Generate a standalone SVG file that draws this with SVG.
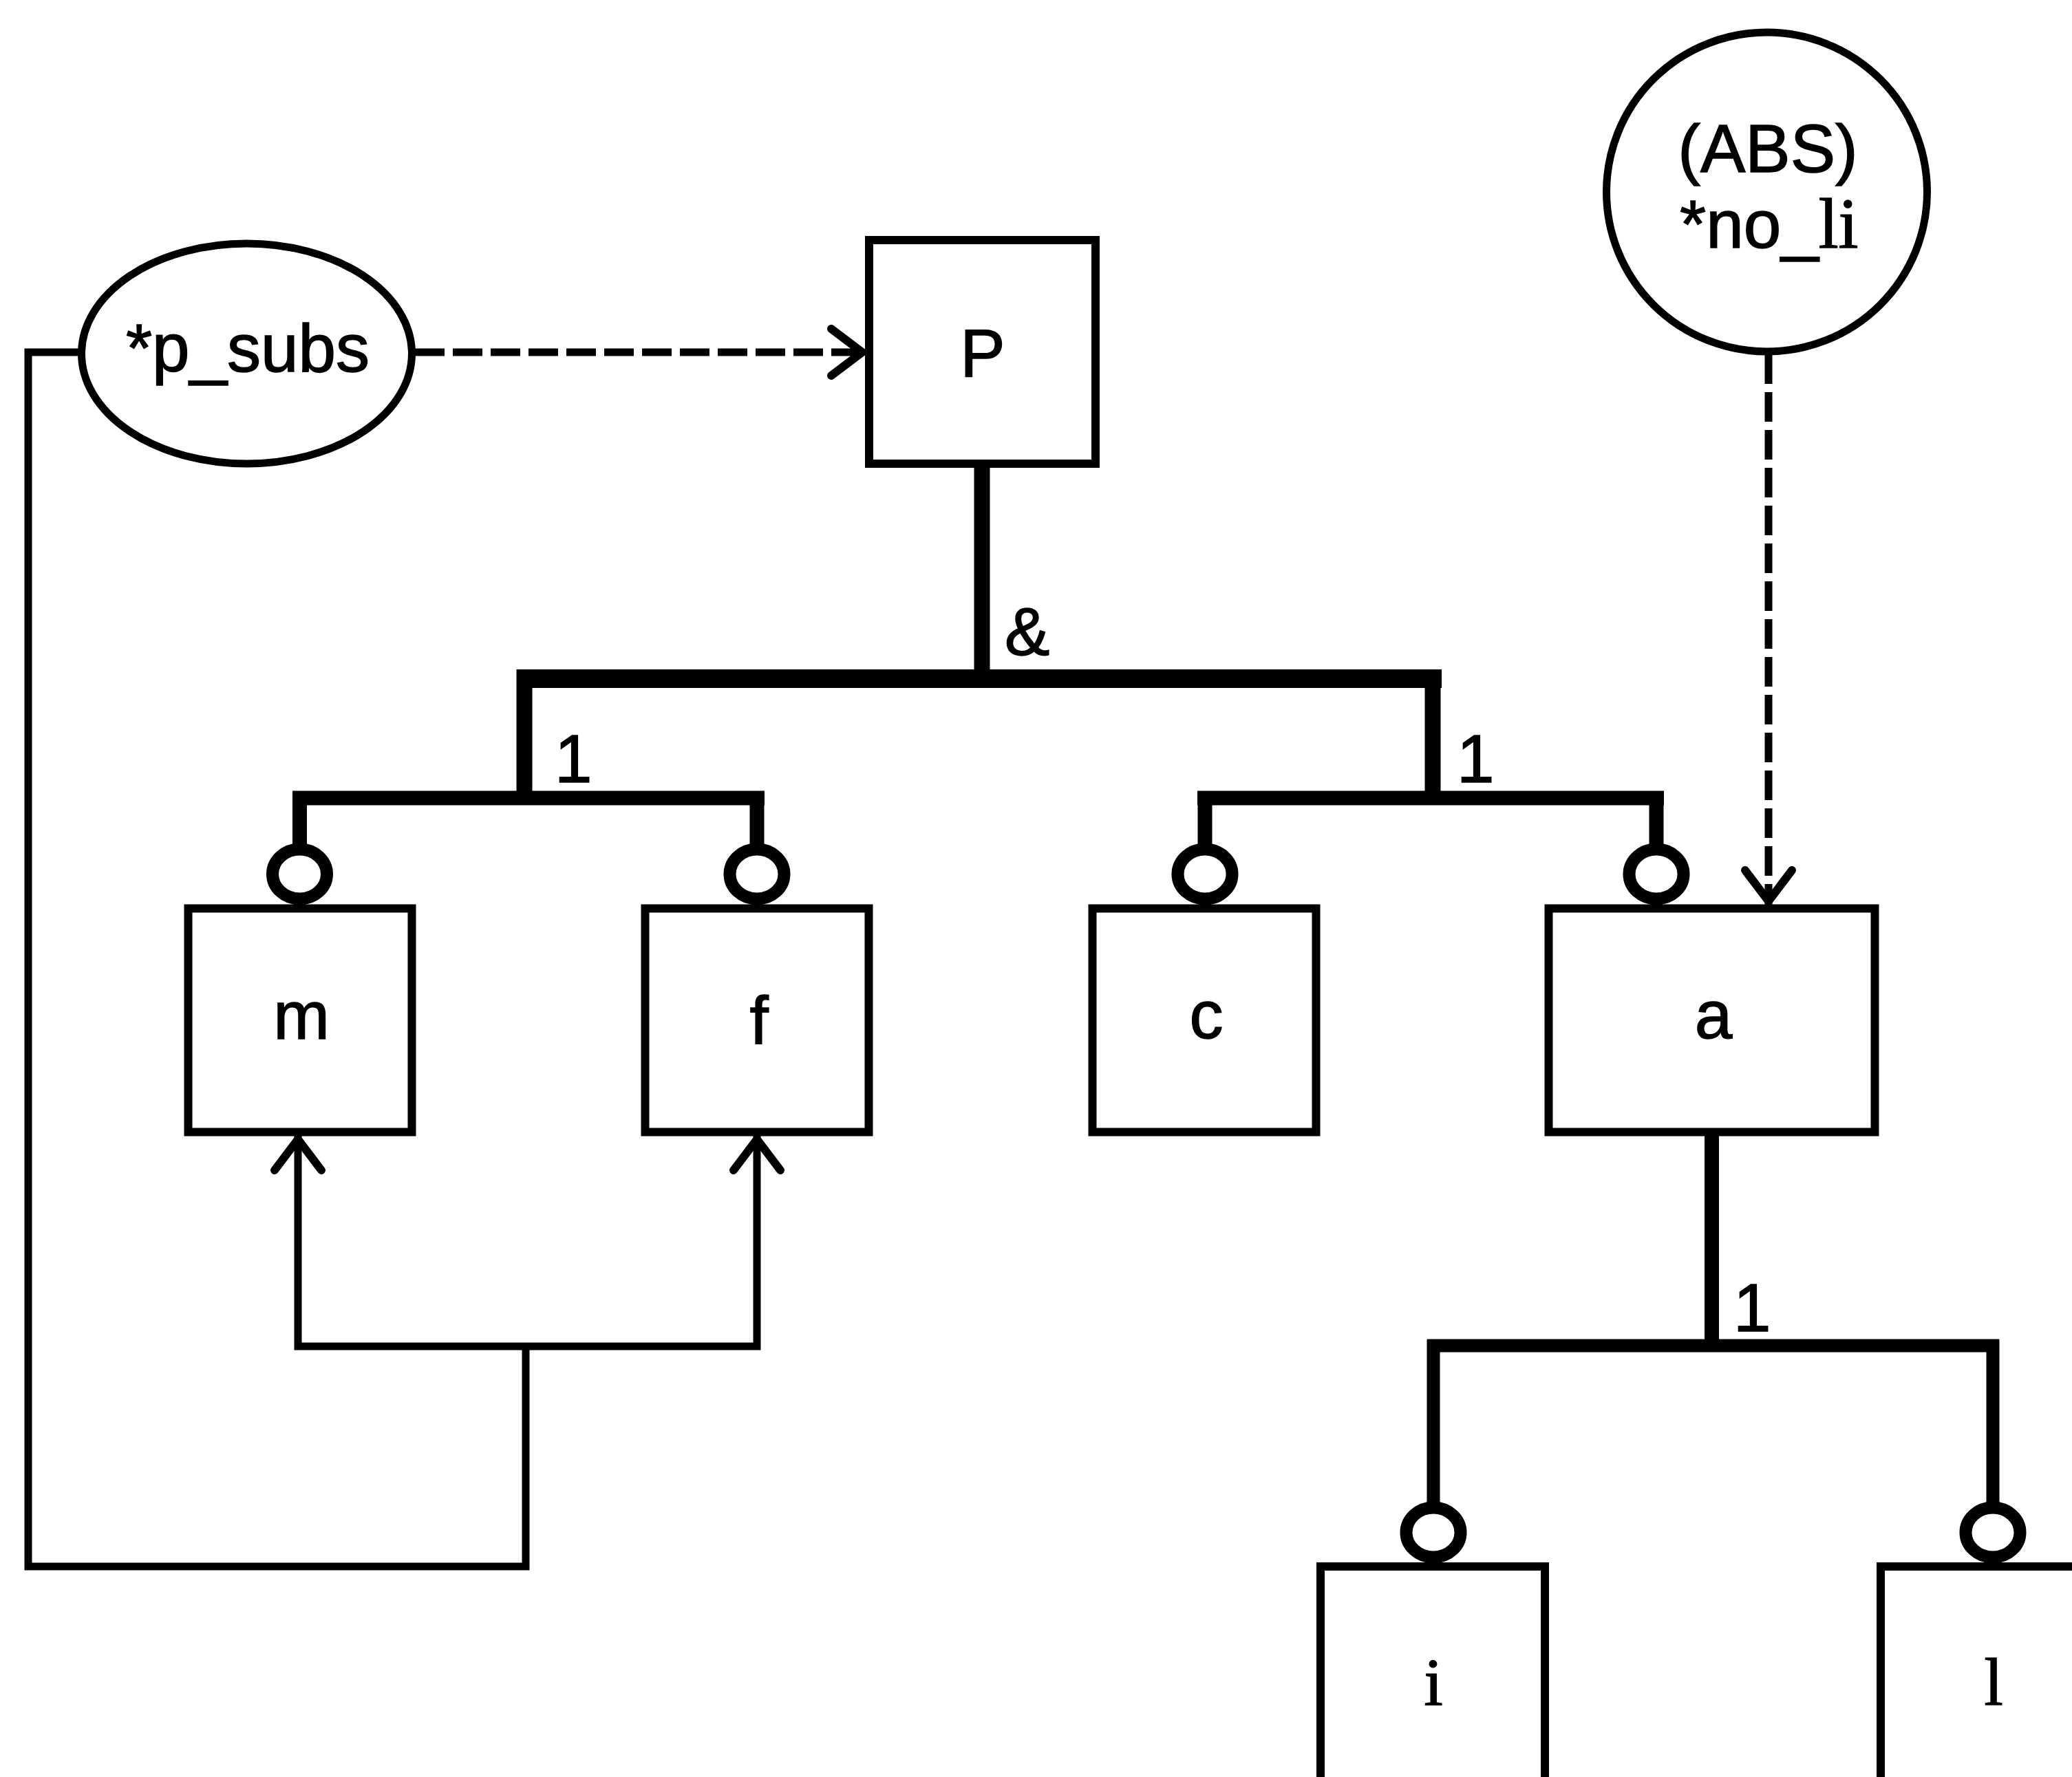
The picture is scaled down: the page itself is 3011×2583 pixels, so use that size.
<svg xmlns="http://www.w3.org/2000/svg" width="3011" height="2583" viewBox="0 0 3011 2583">
<defs>
<style>
.box{fill:#fff;stroke:#000;stroke-width:12}
.oval{fill:#fff;stroke:#000;stroke-width:11}
.ring{fill:#fff;stroke:#000;stroke-width:18}
.lbl{font-family:"Liberation Sans",Arial,Helvetica,sans-serif;font-size:98px;fill:#000;stroke:#000;stroke-width:1.5}
.ser{font-family:"Liberation Serif","Times New Roman",serif}
.ln{fill:none;stroke:#000;stroke-width:11}
.dash{fill:none;stroke:#000;stroke-width:11;stroke-dasharray:43 12}
.bar{fill:none;stroke:#000}
</style>
<marker id="arr" markerUnits="userSpaceOnUse" viewBox="-60 -45 70 90" markerWidth="70" markerHeight="90" refX="0" refY="0" orient="auto" overflow="visible">
<path d="M-50,-34 L-5,0 L-50,34" fill="none" stroke="#000" stroke-width="12" stroke-linecap="round" stroke-linejoin="round"/>
</marker>
</defs>
<rect width="3011" height="2583" fill="#fff"/>
<g id="connectors">
<line class="bar" x1="1427" y1="679" x2="1427" y2="987" stroke-width="23"/>
<line class="bar" x1="751" y1="986.5" x2="2095" y2="986.5" stroke-width="27"/>
<line class="bar" x1="762" y1="973" x2="762" y2="1160" stroke-width="23"/>
<line class="bar" x1="2082" y1="973" x2="2082" y2="1160" stroke-width="23"/>
<line class="bar" x1="425" y1="1160" x2="1111" y2="1160" stroke-width="21"/>
<line class="bar" x1="435.5" y1="1150" x2="435.5" y2="1236" stroke-width="21"/>
<line class="bar" x1="1100" y1="1150" x2="1100" y2="1236" stroke-width="21"/>
<line class="bar" x1="1740" y1="1160" x2="2418" y2="1160" stroke-width="21"/>
<line class="bar" x1="1751" y1="1150" x2="1751" y2="1236" stroke-width="21"/>
<line class="bar" x1="2407" y1="1150" x2="2407" y2="1236" stroke-width="21"/>
<line class="bar" x1="2487.5" y1="1651" x2="2487.5" y2="1956" stroke-width="21"/>
<line class="bar" x1="2074" y1="1956" x2="2905" y2="1956" stroke-width="19"/>
<line class="bar" x1="2083" y1="1947" x2="2083" y2="2193" stroke-width="19"/>
<line class="bar" x1="2896" y1="1947" x2="2896" y2="2193" stroke-width="19"/>
<ellipse class="ring" cx="435.5" cy="1270.5" rx="39.5" ry="36"/>
<ellipse class="ring" cx="1100" cy="1270.5" rx="39.5" ry="36"/>
<ellipse class="ring" cx="1751" cy="1270.5" rx="39.5" ry="36"/>
<ellipse class="ring" cx="2407" cy="1270.5" rx="39.5" ry="36"/>
<ellipse class="ring" cx="2083" cy="2227.5" rx="39.5" ry="36"/>
<ellipse class="ring" cx="2896" cy="2227.5" rx="39.5" ry="36"/>
<path class="ln" d="M118,512 H41 V2277 H764 V1957"/>
<path class="ln" d="M764,1957 H433 V1651" marker-end="url(#arr)"/>
<path class="ln" d="M764,1957 H1100 V1651" marker-end="url(#arr)"/>
<path class="dash" d="M603,512 H1258" marker-end="url(#arr)"/>
<path class="dash" d="M2570,515 V1315" marker-end="url(#arr)"/>
<text class="lbl" x="1460" y="952">&amp;</text>
<text class="lbl" x="806" y="1137">1</text>
<text class="lbl" x="2117" y="1137">1</text>
<text class="lbl" x="2519" y="1935">1</text>
</g>
<g id="node-p_subs">
<ellipse class="oval" cx="358.5" cy="514" rx="240" ry="160"/>
<text class="lbl" x="360" y="540" font-size="94" text-anchor="middle">*p_subs</text>
</g>
<g id="node-no_li">
<ellipse class="oval" cx="2567.5" cy="279" rx="233" ry="232"/>
<text class="lbl" x="2569" y="250" font-size="95" text-anchor="middle">(ABS)</text>
<text class="lbl" x="2441" y="360" font-size="95">*no_<tspan class="ser" font-size="104">li</tspan></text>
</g>
<g id="node-P">
<rect class="box" x="1263" y="349" width="329" height="325" stroke-width="10"/>
<text class="lbl" x="1428" y="547" text-anchor="middle">P</text>
</g>
<g id="node-m">
<rect class="box" x="273.5" y="1320.5" width="325" height="325"/>
<text class="lbl" x="438" y="1510" text-anchor="middle">m</text>
</g>
<g id="node-f">
<rect class="box" x="937.5" y="1320.5" width="325" height="325"/>
<text class="lbl" x="1103" y="1517" text-anchor="middle">f</text>
</g>
<g id="node-c">
<rect class="box" x="1587.5" y="1320.5" width="325" height="325"/>
<text class="lbl" x="1753" y="1509" text-anchor="middle">c</text>
</g>
<g id="node-a">
<rect class="box" x="2250.5" y="1320.5" width="474" height="325"/>
<text class="lbl" x="2490" y="1509" text-anchor="middle">a</text>
</g>
<g id="node-i">
<rect class="box" x="1919" y="2277" width="326" height="326" stroke-width="10"/>
<text class="lbl ser" x="2083" y="2478" font-size="105" text-anchor="middle">i</text>
</g>
<g id="node-l">
<rect class="box" x="2733" y="2277" width="326" height="326" stroke-width="10"/>
<text class="lbl ser" x="2897" y="2478" font-size="105" text-anchor="middle">l</text>
</g>
</svg>
